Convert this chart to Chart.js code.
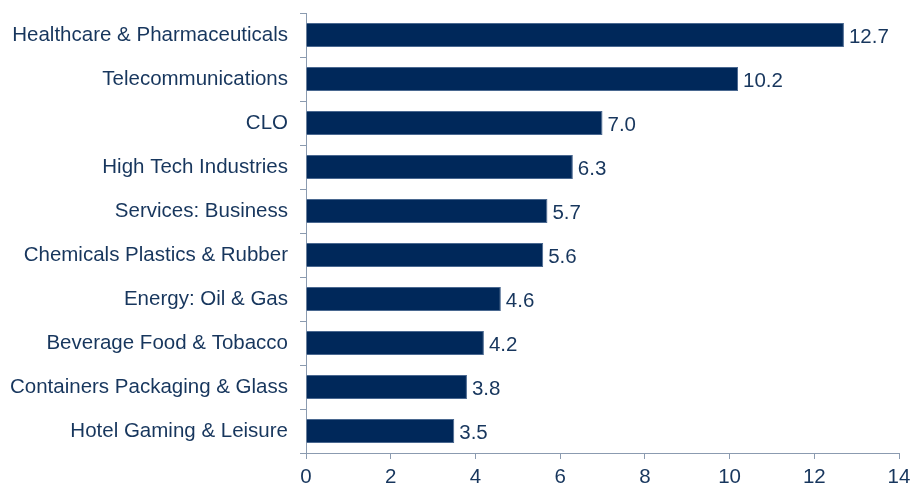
<!DOCTYPE html>
<html>
<head>
<meta charset="utf-8">
<script src="https://cdn.jsdelivr.net/npm/chart.js@4.4.1/dist/chart.umd.min.js"></script>
<style>
html,body{margin:0;padding:0;background:#fff;}
#wrap{width:910px;height:484px;position:relative;}
</style>
</head>
<body>
<div id="wrap"><canvas id="c" width="910" height="484"></canvas></div>
<script>
const categories = [
  "Healthcare & Pharmaceuticals",
  "Telecommunications",
  "CLO",
  "High Tech Industries",
  "Services: Business",
  "Chemicals Plastics & Rubber",
  "Energy: Oil & Gas",
  "Beverage Food & Tobacco",
  "Containers Packaging & Glass",
  "Hotel Gaming & Leisure"
];
const values = [12.7, 10.2, 7.0, 6.3, 5.7, 5.6, 4.6, 4.2, 3.8, 3.5];
const xTicks = [0, 2, 4, 6, 8, 10, 12, 14];

const NAVY = '#00285a';
const TEXT = '#17365d';
const AXIS = '#8b9bb0';
const FONT = "'Liberation Sans', Arial, sans-serif";
const FS = 20.5;

const valueLabels = {
  id: 'valueLabels',
  afterDatasetsDraw(chart) {
    const ctx = chart.ctx;
    const meta = chart.getDatasetMeta(0);
    ctx.save();
    ctx.font = FS + 'px ' + FONT;
    ctx.fillStyle = TEXT;
    ctx.textAlign = 'left';
    ctx.textBaseline = 'middle';
    meta.data.forEach((bar, i) => {
      ctx.fillText(values[i].toFixed(1), bar.x + 5, bar.y + 2);
    });
    ctx.restore();
  }
};

new Chart(document.getElementById('c'), {
  type: 'bar',
  data: {
    labels: categories,
    datasets: [{
      data: values,
      backgroundColor: NAVY,
      borderColor: '#4a6890',
      borderWidth: 1,
      borderSkipped: 'left',
      barPercentage: 0.55,
      categoryPercentage: 1.0
    }]
  },
  options: {
    indexAxis: 'y',
    responsive: false,
    animation: false,
    devicePixelRatio: 1,
    layout: { padding: { top: 13, right: 0, bottom: 0, left: 0 } },
    plugins: { legend: { display: false }, tooltip: { enabled: false } },
    scales: {
      y: {
        type: 'category',
        offset: true,
        afterFit(scale) { scale.width = 306; scale.paddingTop = 0; scale.paddingBottom = 0; },
        grid: { offset: true, drawOnChartArea: false, tickLength: 6, color: AXIS, lineWidth: 1 },
        border: { display: true, color: AXIS, width: 1 },
        ticks: { color: TEXT, padding: 12, font: { family: FONT, size: FS } }
      },
      x: {
        min: 0, max: 14,
        afterBuildTicks(scale) { scale.ticks = xTicks.map(v => ({ value: v })); },
        afterFit(scale) { scale.height = 31; scale.paddingRight = 11; scale.paddingLeft = 0; },
        grid: { drawOnChartArea: false, tickLength: 6, color: AXIS, lineWidth: 1 },
        border: { display: true, color: AXIS, width: 1 },
        ticks: { color: TEXT, padding: 6, font: { family: FONT, size: FS }, maxRotation: 0 }
      }
    }
  },
  plugins: [valueLabels]
});
</script>
</body>
</html>
